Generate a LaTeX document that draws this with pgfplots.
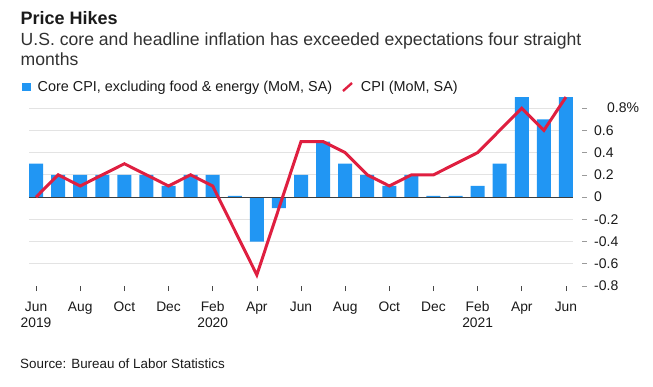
\documentclass[border=0pt]{standalone}
\usepackage{pgfplots}
\pgfplotsset{compat=1.18}
\usepackage{fontspec}
\setmainfont{Liberation Sans}
\definecolor{barblue}{HTML}{2196F3}
\definecolor{linered}{HTML}{DF1F40}
\definecolor{gridgray}{HTML}{E3E3E3}
\definecolor{tickgray}{HTML}{9A9A9A}
\definecolor{txt}{HTML}{1A1A1A}
\newcommand{\yl}[2][7pt]{\textcolor{tickgray}{\rule[0.33em]{5pt}{0.5pt}}\hspace{#1}#2}
\begin{document}
\begin{tikzpicture}
\path[use as bounding box] (0,0) rectangle (653pt,386pt);
\begin{axis}[
  at={(29pt,100pt)}, anchor=south west,
  scale only axis, width=544pt, height=194.5pt,
  xmin=-0.32, xmax=24.32, ymin=-0.8, ymax=0.95,
  axis line style={draw=none},
  xtick={0,2,...,24},
  xticklabels={Jun\\2019,Aug,Oct,Dec,Feb\\2020,Apr,Jun,Aug,Oct,Dec,Feb\\2021,Apr,Jun},
  xticklabel style={align=center, font=\fontsize{13.8}{16}\selectfont, text=txt, yshift=-7pt},
  x tick style={draw=txt!80, line width=0.6pt},
  major tick length=5pt,
  xtick pos=bottom, xtick align=outside,
  ytick={-0.6,-0.4,-0.2,0,0.2,0.4,0.6,0.8},
  yticklabels={\yl{-0.6},\yl{-0.4},\yl{-0.2},\yl{0},\yl{0.2},\yl{0.4},\yl{0.6},\yl[20pt]{0.8\%}},
  extra y ticks={-0.8},
  extra y tick labels={\yl{-0.8}},
  extra y tick style={grid=none},
  ytick pos=right, yticklabel pos=right,
  y tick style={draw=none},
  yticklabel style={anchor=west, inner sep=0pt, xshift=9pt, font=\fontsize{14}{16}\selectfont, text=txt},
  ymajorgrids, major grid style={gridgray, line width=0.8pt},
  clip=false,
]
\addplot[ybar, bar width=14pt, fill=barblue, draw=none] coordinates {
(0,0.3) (1,0.2) (2,0.2) (3,0.2) (4,0.2) (5,0.2) (6,0.1) (7,0.2) (8,0.2) (9,0.01)
(10,-0.4) (11,-0.1) (12,0.2) (13,0.5) (14,0.3) (15,0.2) (16,0.1) (17,0.2) (18,0.01)
(19,0.01) (20,0.1) (21,0.3) (22,0.9) (23,0.7) (24,0.9)};
\draw[txt!85, line width=0.8pt] (axis cs:-0.32,0) -- (axis cs:24.32,0);
\addplot[linered, line width=3pt, mark=none, sharp plot] coordinates {
(0,0.0) (1,0.2) (2,0.1) (3,0.2) (4,0.3) (5,0.2) (6,0.1) (7,0.2) (8,0.1) (9,-0.3)
(10,-0.7) (11,-0.1) (12,0.5) (13,0.5) (14,0.4) (15,0.2) (16,0.1) (17,0.2) (18,0.2)
(19,0.3) (20,0.4) (21,0.6) (22,0.8) (23,0.6) (24,0.9)};
\end{axis}
\node[anchor=base west, inner sep=0pt, text=txt, font=\fontsize{18}{20}\selectfont\bfseries] at (20.5pt,361pt) {Price Hikes};
\node[anchor=base west, inner sep=0pt, text=txt!90, font=\fontsize{17.6}{20}\selectfont] at (20.5pt,340pt) {U.S. core and headline inflation has exceeded expectations four straight};
\node[anchor=base west, inner sep=0pt, text=txt!90, font=\fontsize{17.6}{20}\selectfont] at (20.5pt,320pt) {months};
\fill[barblue] (21.7pt,294.5pt) rectangle (31pt,303pt);
\node[anchor=base west, inner sep=0pt, text=txt, font=\fontsize{14.4}{16}\selectfont] at (37.5pt,294.3pt) {Core CPI, excluding food \& energy (MoM, SA)};
\draw[linered, line width=2.4pt] (343pt,295pt) -- (352pt,303pt);
\node[anchor=base west, inner sep=0pt, text=txt, font=\fontsize{14.4}{16}\selectfont] at (360.7pt,294.3pt) {CPI (MoM, SA)};
\node[anchor=base west, inner sep=0pt, text=txt, font=\fontsize{13.4}{15}\selectfont] at (20pt,17.7pt) {Source: Bureau of Labor Statistics};
\end{tikzpicture}
\end{document}
